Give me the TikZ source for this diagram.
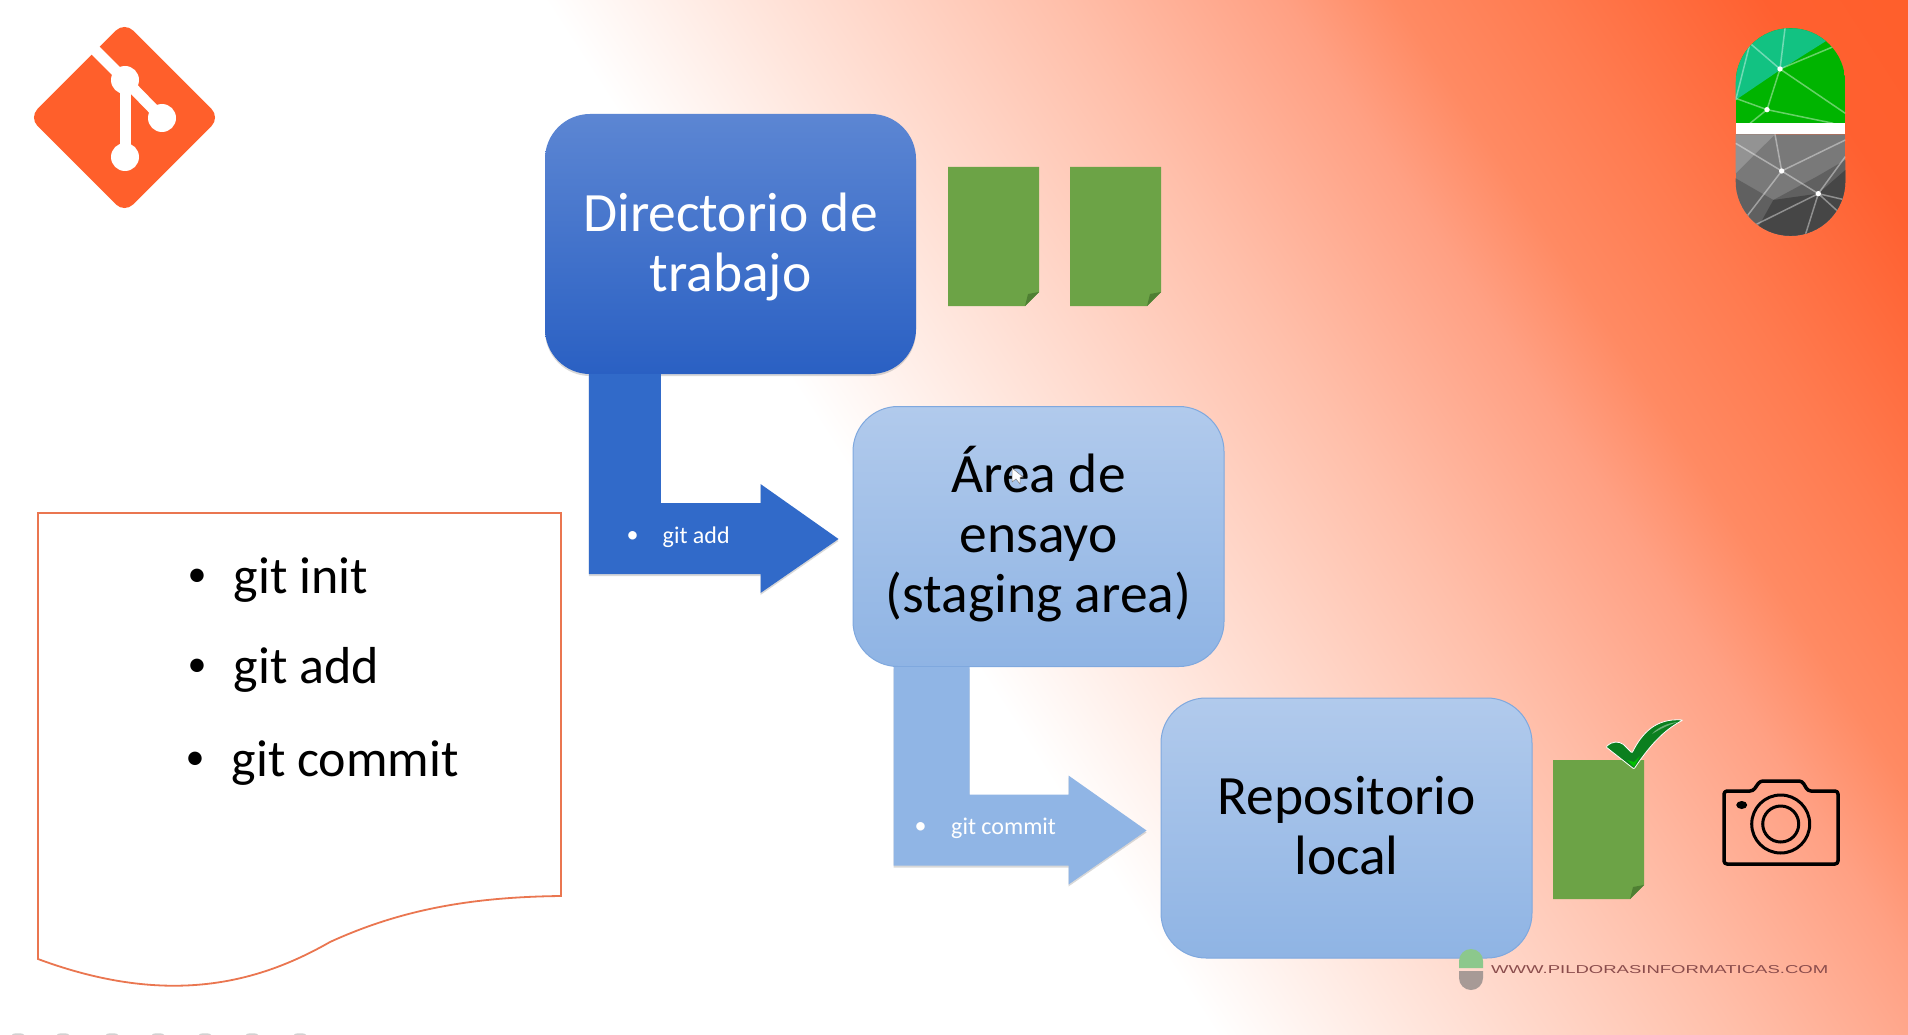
\documentclass[tikz,border=0pt]{standalone}
\usepackage{fontspec}
\setmainfont{Carlito}
\newfontfamily\urlfont{Liberation Sans}
\usetikzlibrary{calc,shadows}
\definecolor{gitorange}{HTML}{FF5F2B}
\definecolor{boxdarktop}{HTML}{5C86D3}
\definecolor{boxdarkbot}{HTML}{2A60C3}
\definecolor{boxlighttop}{HTML}{B1CAEC}
\definecolor{boxlightbot}{HTML}{8FB4E4}
\definecolor{boxlightline}{HTML}{7FA8DE}
\definecolor{arrowdark}{HTML}{316AC9}
\definecolor{arrowlight}{HTML}{90B5E5}
\definecolor{pagegreen}{HTML}{6CA346}
\definecolor{pagefold}{HTML}{4F7F33}
\definecolor{docline}{HTML}{EA7650}
\definecolor{checkgreen}{HTML}{0B7F1F}
\definecolor{pillgreen}{HTML}{00B400}
\definecolor{pillteal}{HTML}{12C282}
\definecolor{smallgreen}{HTML}{8CC88C}
\definecolor{smallgray}{HTML}{A79A96}
\definecolor{bgone}{HTML}{FFE6DD}
\definecolor{bgtwo}{HTML}{FFBFAA}
\definecolor{bgthree}{HTML}{FFA083}
\definecolor{bgfour}{HTML}{FF8A63}
\definecolor{bgfive}{HTML}{FF7B50}
\definecolor{bgsix}{HTML}{FF6030}
\pgfdeclarehorizontalshading{bgshade}{100bp}{color(0bp)=(white); color(48bp)=(white);
    color(53.4bp)=(bgone); color(62bp)=(bgtwo); color(68bp)=(bgthree); color(71bp)=(bgfour);
    color(75bp)=(bgfive); color(81bp)=(bgsix); color(85bp)=(gitorange); color(100bp)=(gitorange)}
\tikzset{
    softshadow/.style={drop shadow={opacity=.3,shadow xshift=0pt,shadow yshift=-2pt}},
    darkbox/.style={rounded corners=45pt,minimum width=371pt,minimum height=260pt,inner sep=0pt,align=center,
        top color=boxdarktop,bottom color=boxdarkbot,text=white,font=\fontsize{55.5}{60}\selectfont,softshadow},
    lightbox/.style={rounded corners=45pt,minimum width=371pt,minimum height=260pt,inner sep=0pt,align=center,
        top color=boxlighttop,bottom color=boxlightbot,draw=boxlightline,line width=1pt,text=black,font=\fontsize{55.5}{60}\selectfont},
    arrowlabel/.style={text=white,inner sep=0pt,font=\fontsize{24}{28}\selectfont},
    listlabel/.style={text=black,inner sep=0pt,anchor=base west,font=\fontsize{52}{56}\selectfont},
    listdot/.style={text=black,inner sep=0pt,font=\fontsize{38}{40}\selectfont},
    netline/.style={white,opacity=.4,line width=1.5pt}
}
\begin{document}
\begin{tikzpicture}[x=1pt,y=-1pt]
    \useasboundingbox (0,0) rectangle (1908,1035);
    \shade[shading=bgshade,shading angle=33] (0,0) rectangle (1908,1035);
    % git logo
    \fill[gitorange,rounded corners=12pt] (124.5,22) -- (220,117.5) -- (124.5,213) -- (29,117.5) -- cycle;
    \draw[white,line width=11pt] (90,45) -- (125,80) -- (162,118);
    \draw[white,line width=11pt] (125,80) -- (125,157);
    \foreach \x/\y in {125/80,162/118,125/157}
        \fill[white] (\x,\y) circle (14);
    % pill logo
    \begin{scope}[shift={(1700,0)},x=0.3333pt,y=-0.3333pt]
        \begin{scope}
            \clip (107,370) -- (107,249) arc (180:360:164.5) -- (436,370) -- cycle;
            \fill[pillgreen] (107,85) rectangle (436,370);
            \fill[pillteal] (107,85) -- (436,85) -- (375,125) -- (240,210) -- (107,300) -- cycle;
            \draw[netline] (240,207) -- (255,85) (240,207) -- (150,130) -- (107,300) (240,207) -- (400,140)
                (240,207) -- (436,340) (240,207) -- (201,329) -- (107,295) (201,329) -- (150,370) (201,329) -- (400,370);
            \fill[white] (240,207) circle (8) (201,329) circle (8);
        \end{scope}
        \fill[white] (107,370) rectangle (436,403);
        \begin{scope}
            \clip (107,403) -- (107,543) arc (180:0:164.5) -- (436,403) -- cycle;
            \fill[gray!95!black] (107,403) rectangle (436,708);
            \fill[gray!85!white] (107,403) -- (225,403) -- (107,520) -- cycle;
            \fill[gray!75!black] (107,535) -- (220,600) -- (350,530) -- (436,480) -- (436,708) -- (107,708) -- cycle;
            \fill[gray!55!black] (220,600) -- (355,581) -- (436,510) -- (436,708) -- (160,708) -- cycle;
            \draw[netline] (107,430) -- (245,513) -- (355,581) -- (420,640) (245,513) -- (225,403) (245,513) -- (436,420)
                (245,513) -- (140,650) (355,581) -- (436,470) (355,581) -- (165,675) (355,581) -- (315,708) (355,581) -- (436,600);
            \fill[white] (245,513) circle (8) (355,581) circle (8);
        \end{scope}
    \end{scope}
    % bent arrows between the boxes
    \node[darkbox] (dirbox) at (730.5,244) {\rule{0pt}{44pt}Directorio de\\trabajo};
    \node[lightbox] (areabox) at (1038.5,536.5) {Área de\\ensayo\\(staging area)\rule[-14pt]{0pt}{14pt}};
    \node[lightbox] (repobox) at (1346.5,828) {Repositorio\\local\rule[-6pt]{0pt}{6pt}};
    \foreach \from/\to/\arrowcol/\xl/\xr/\dotx/\cmdx/\cmdname in {dirbox/areabox/arrowdark/44/116/-220/-190/git add,areabox/repobox/arrowlight/41/117/-240/-209.5/git commit}{
        \fill[\arrowcol,softshadow] ($(\from.south west)+(\xl,0)$) -- ($(\from.south west)+(\xr,0)$)
            |- ($(\to.west)+(-92,-33.5)$) -- ($(\to.west)+(-92,-52.5)$) -- ($(\to.west)+(-14,2.5)$)
            -- ($(\to.west)+(-92,56.5)$) -- ($(\to.west)+(-92,37.5)$) -| cycle;
        \node[arrowlabel] (dot\to) at ($(\to.west)+(\dotx,.5)$) {•};
        \node[arrowlabel,anchor=west] (cmd\to) at ($(\to.west)+(\cmdx,.5)$) {\cmdname};
    }
    % pages
    \foreach \x/\y in {948/167,1070/167,1553/760}{
        \fill[pagegreen] (\x,\y) -- ++(91,0) -- ++(0,125) -- ++(-14,14) -- ++(-77,0) -- cycle;
        \fill[pagefold] (\x+91,\y+125) -- (\x+77,\y+139) -- (\x+80,\y+127) -- cycle;
    }
    % check mark
    \fill[checkgreen,draw=white,line width=.8pt,rounded corners=1pt] (1606,747) .. controls (1612,741) and (1619,741) .. (1624,745)
        -- (1632,753) .. controls (1642,733) and (1656,718) .. (1683,720) .. controls (1664,730) and (1650,745) .. (1634,769) -- cycle;
    \fill[white!40!checkgreen] (1652,734) .. controls (1658,727) and (1668,723) .. (1678,722) .. controls (1668,725) and (1660,729) .. (1652,734) -- cycle;
    \fill[green!75!black] (1634,767) -- (1627,760) -- (1634,762) -- (1640,756) -- cycle;
    % camera
    \draw[line width=3.5pt,rounded corners=3pt,line join=round] (1724,791) -- (1753,791) -- (1760,781) -- (1802,781)
        -- (1808,791) -- (1838,791) -- (1838,864) -- (1724,864) -- cycle;
    \draw[line width=3pt] (1780.7,824) circle (29) (1780.7,824) circle (18);
    \fill (1741.7,805) ellipse (5.5 and 4);
    % list on the left
    \draw[docline,fill=white,line width=1.8pt] (38,513) -- (561,513) -- (561,896) .. controls (470,897) and (400,910) .. (330,942)
        .. controls (260,982) and (170,1008) .. (38,959) -- cycle;
    \foreach \x/\y/\cmdname in {197/593/git init,197/683/git add,195/776/git commit}{
        \node[listdot] (dot\y) at (\x,\y-15) {•};
        \node[listlabel] (cmd\y) at (\x+36.5,\y) {\cmdname};
    }
    % cursor
    \fill[white,draw=gray,line width=.5pt] (1012,468) -- (1012,482) -- (1016,479) -- (1020,484) -- (1020,477) -- (1023,477) -- cycle;
    % watermark
    \fill[smallgreen] (1459,968) -- (1459,961) arc (180:360:12) -- (1483,968) -- cycle;
    \fill[smallgray] (1459,971) -- (1459,978) arc (180:0:12) -- (1483,971) -- cycle;
    \node[inner sep=0pt,anchor=west,text=black!40!red!40!gray] (weburl) at (1491,970) {\resizebox{337pt}{8pt}{\urlfont WWW.PILDORASINFORMATICAS.COM}};
    % specks along the lower edge
    \foreach \x in {18,63,112,158,205,252,300}
        \fill[gray!35] (\x,1034.5) ellipse (6 and 1.2);
\end{tikzpicture}
\end{document}
